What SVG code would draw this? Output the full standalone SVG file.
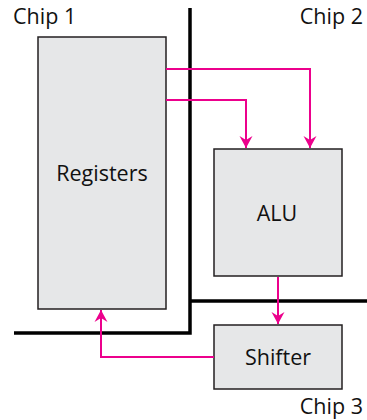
<svg xmlns="http://www.w3.org/2000/svg" width="367" height="420" viewBox="0 0 367 420">
<defs>
<style>
.box{fill:#e6e7e8;stroke:#231f20;stroke-width:1.5}
.wall{fill:none;stroke:#000;stroke-width:3.5;stroke-linejoin:miter}
.wire{fill:none;stroke:#ec008c;stroke-width:2}
.lbl{font-family:"Open Sans","Liberation Sans",sans-serif;font-size:21.5px;fill:#111}
</style>
<marker id="ah" viewBox="0 0 12 16" refX="12" refY="8" markerWidth="12" markerHeight="16" markerUnits="userSpaceOnUse" orient="auto">
<path d="M0,1.5 L12,8 L0,14.5 L4,8 Z" fill="#ec008c"/>
</marker>
</defs>
<rect width="367" height="420" fill="#fff"/>
<g id="walls">
<polyline class="wall" points="190,8 190,333 14,333"/>
<polyline class="wall" points="190,301 367,301"/>
</g>
<g id="registers">
<rect class="box" x="38" y="37" width="128" height="272"/>
<text class="lbl" x="102" y="181" text-anchor="middle">Registers</text>
</g>
<g id="alu">
<rect class="box" x="214" y="149" width="128" height="127"/>
<text class="lbl" x="277" y="221" text-anchor="middle">ALU</text>
</g>
<g id="shifter">
<rect class="box" x="214" y="325" width="128" height="64"/>
<text class="lbl" x="278" y="365" text-anchor="middle">Shifter</text>
</g>
<g id="connectors">
<polyline class="wire" points="166,69 310,69 310,148" marker-end="url(#ah)"/>
<polyline class="wire" points="166,100 246,100 246,148" marker-end="url(#ah)"/>
<polyline class="wire" points="278,277 278,324" marker-end="url(#ah)"/>
<polyline class="wire" points="214,357 101,357 101,310" marker-end="url(#ah)"/>
</g>
<g id="chips">
<text class="lbl" x="13" y="24">Chip 1</text>
<text class="lbl" x="363" y="24" text-anchor="end">Chip 2</text>
<text class="lbl" x="363" y="414" text-anchor="end">Chip 3</text>
</g>
</svg>
